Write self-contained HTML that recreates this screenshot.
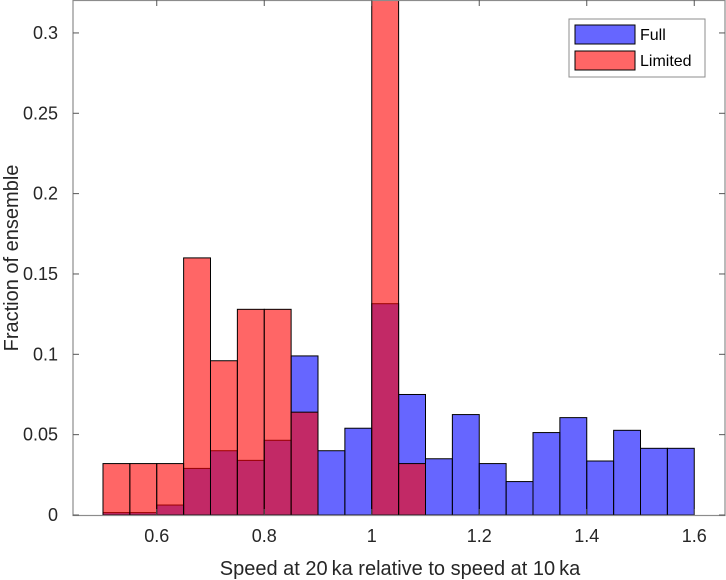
<!DOCTYPE html>
<html><head><meta charset="utf-8"><style>
body{margin:0;background:#fff;}
svg{display:block;font-family:"Liberation Sans",sans-serif;}
</style></head><body>
<svg id="chart" width="726" height="580" viewBox="0 0 726 580"></svg>
<script>
const binStarts=[0.5,0.55,0.6,0.65,0.7,0.75,0.8,0.85,0.9,0.95,1.0,1.05,1.1,1.15,1.2,1.25,1.3,1.35,1.4,1.45,1.5,1.55];
const fullVals=[0.0015,0.0015,0.0062,0.029,0.040,0.034,0.0465,0.099,0.040,0.054,0.1315,0.075,0.035,0.0625,0.032,0.0208,0.0513,0.0606,0.0336,0.0527,0.0415,0.0415];
const limitedVals=[0.032,0.032,0.032,0.160,0.096,0.128,0.128,0.064,0,0,0.35,0.032,0,0,0,0,0,0,0,0,0,0];
const xTicks=[0.6,0.8,1.0,1.2,1.4,1.6];
const xTickLabels=["0.6","0.8","1","1.2","1.4","1.6"];
const yTicks=[0,0.05,0.1,0.15,0.2,0.25,0.3];
const yTickLabels=["0","0.05","0.1","0.15","0.2","0.25","0.3"];
const binWidth=0.05;

const L=73,R=725,T=0,B=515;
const x0=0.4442,x1=1.6572,y0=0,y1=0.3205;
const sx=v=>L+(v-x0)/(x1-x0)*(R-L);
const sy=v=>B-(v-y0)/(y1-y0)*(B-T);
const svg=document.getElementById('chart');
const NS='http://www.w3.org/2000/svg';
function mk(tag,attrs,parent){const e=document.createElementNS(NS,tag);for(const k in attrs)e.setAttribute(k,attrs[k]);(parent||svg).appendChild(e);return e;}

const clip=mk('clipPath',{id:'pc'});mk('rect',{x:L,y:T,width:R-L,height:B-T},clip);
const bars=mk('g',{'clip-path':'url(#pc)'});
function drawSeries(vals,color,name){
  vals.forEach((v,i)=>{
    if(v<=0)return;
    const xa=sx(binStarts[i]),xb=sx(binStarts[i]+binWidth);
    const r=mk('rect',{x:xa,y:sy(v),width:xb-xa,height:sy(0)-sy(v),fill:color,'fill-opacity':0.6,stroke:'#000','stroke-width':1},bars);
    
    
  });
}
drawSeries(fullVals,'#0000ff','full');
drawSeries(limitedVals,'#ff0000','limited');

const ax=mk('rect',{x:L,y:T+0.5,width:R-L,height:B-T,fill:'none',stroke:'#8c8c8c','stroke-width':1.2});

xTicks.forEach((t,i)=>{
  const X=sx(t);
  mk('line',{x1:X,y1:B,x2:X,y2:B-6,stroke:'#555'});
  mk('line',{x1:X,y1:T,x2:X,y2:T+6,stroke:'#555'});
  const tx=mk('text',{x:X,y:B+27,'font-size':18,'text-anchor':'middle',fill:'#262626'});
  tx.textContent=xTickLabels[i];
  
});
yTicks.forEach((t,i)=>{
  const Y=sy(t);
  mk('line',{x1:L,y1:Y,x2:L+6,y2:Y,stroke:'#555'});
  mk('line',{x1:R,y1:Y,x2:R-6,y2:Y,stroke:'#555'});
  const tx=mk('text',{x:L-15,y:Y+6,'font-size':18,'text-anchor':'end',fill:'#262626'});
  tx.textContent=yTickLabels[i];
  
});
const xl=mk('text',{x:400,y:575,'font-size':20,'text-anchor':'middle',fill:'#262626'});
xl.textContent='Speed at 20\u2009ka relative to speed at 10\u2009ka';

const yl=mk('text',{x:0,y:0,'font-size':20,'text-anchor':'middle',fill:'#262626',transform:'translate(18,258) rotate(-90)'});
yl.textContent='Fraction of ensemble';


const lg=mk('g',{});

mk('rect',{x:569,y:19,width:136,height:58,fill:'#fff',stroke:'#8c8c8c'},lg);
[['Full','#0000ff',25],['Limited','#ff0000',51]].forEach(([n,c,y])=>{
  const p=mk('rect',{x:575,y:y,width:60,height:19,fill:c,'fill-opacity':0.6,stroke:'#000'},lg);
  
  const t=mk('text',{x:640,y:y+15,'font-size':16,fill:'#000'},lg);
  t.textContent=n;
  
});
</script>
</body></html>
